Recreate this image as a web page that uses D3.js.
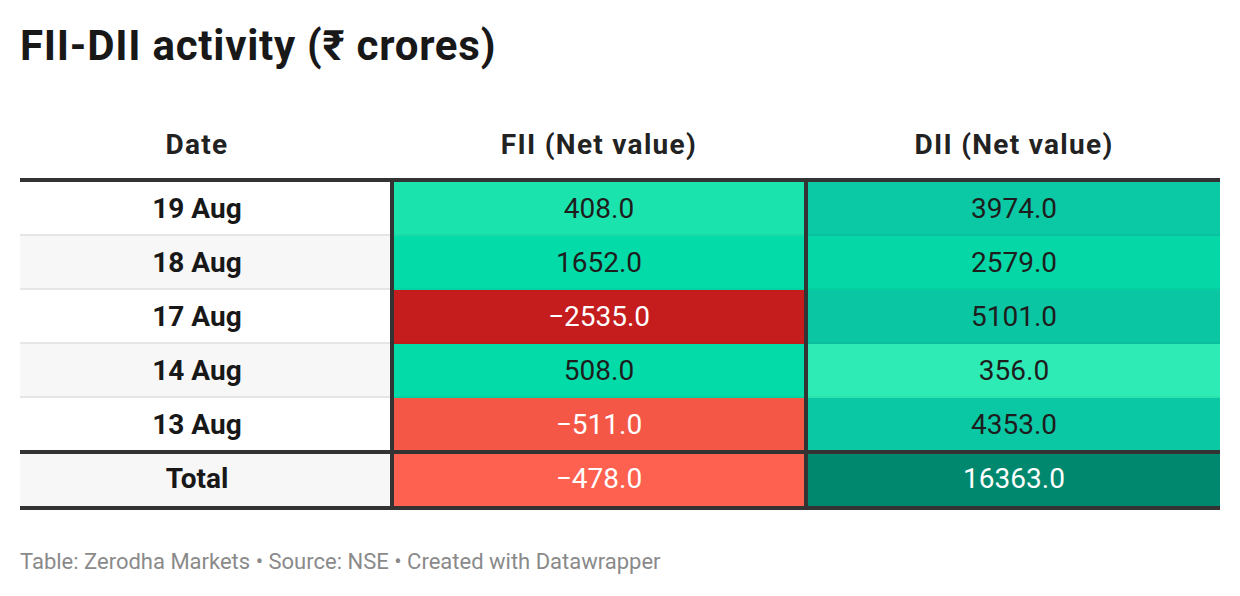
<!DOCTYPE html>
<html>
<head>
<meta charset="utf-8">
<script src="https://cdn.jsdelivr.net/npm/d3@7"></script>
<style>
  html, body { margin: 0; padding: 0; background: #fff; }
  svg { display: block; font-family: Roboto, "Noto Sans", sans-serif; }
</style>
</head>
<body>
<svg id="chart" width="1240" height="596"></svg>
<script>
// ---- data ----
const title = "FII-DII activity (₹ crores)";
const footer = "Table: Zerodha Markets • Source: NSE • Created with Datawrapper";
const headers = ["Date", "FII (Net value)", "DII (Net value)"];
const dates = ["19 Aug", "18 Aug", "17 Aug", "14 Aug", "13 Aug", "Total"];
const fiiValues = [408, 1652, -2535, 508, -511, -478];
const diiValues = [3974, 2579, 5101, 356, 4353, 16363];
// colour scale stops (value -> colour)
const colorStops = [-2535, -511, -478, 356, 408, 508, 1652, 2579, 3974, 5101, 16363];
const colorRange = ["#c51c1d", "#f55747", "#fe614f", "#2eebb6", "#1be3ad", "#03dba8", "#03dba8", "#05d7a6", "#0bc9a5", "#0bc6a3", "#00886f"];

// ---- layout ----
const svg = d3.select("#chart");
const left = 20, right = 1220;
const colX = [20, 394, 808];
const colW = [370, 410, 412];
const colCenter = [197, 394 + 205, 808 + 206];
const tableTop = 182;
const rowH = 54;

const color = d3.scaleLinear().domain(colorStops).range(colorRange).interpolate(d3.interpolateRgb).clamp(true);
const y = d3.scaleBand().domain(dates).range([tableTop, tableTop + rowH * dates.length]).paddingInner(0);

svg.append("text").attr("x", 20).attr("y", 60)
  .attr("font-size", 42).attr("font-weight", 700).attr("letter-spacing", 0.75)
  .attr("fill", "#181818").text(title);

// headers
svg.selectAll("text.hdr").data(headers).enter().append("text")
  .attr("class", "hdr")
  .attr("x", (d, i) => colCenter[i])
  .attr("y", 154)
  .attr("text-anchor", "middle")
  .attr("font-size", 28).attr("font-weight", 700).attr("letter-spacing", 1.3).attr("fill", "#222")
  .text(d => d);

const rows = dates.map((d, i) => ({ date: d, fii: fiiValues[i], dii: diiValues[i], i }));

// date column backgrounds (striped)
svg.selectAll("rect.dbg").data(rows).enter().append("rect")
  .attr("x", colX[0]).attr("width", colW[0])
  .attr("y", d => y(d.date)).attr("height", y.bandwidth())
  .attr("fill", d => (d.i % 2 === 1 || d.date === "Total") ? "#f7f7f7" : "#ffffff");

// value cells
const cols = [{ key: "fii", c: 1 }, { key: "dii", c: 2 }];
cols.forEach(col => {
  svg.selectAll("rect.v" + col.key).data(rows).enter().append("rect")
    .attr("x", colX[col.c]).attr("width", colW[col.c])
    .attr("y", d => y(d.date)).attr("height", y.bandwidth())
    .attr("fill", d => color(d[col.key]));
});

// row dividers (light)
svg.selectAll("rect.div").data(rows.slice(1, 5)).enter().append("rect")
  .attr("x", left).attr("width", colW[0])
  .attr("y", d => y(d.date) - 2).attr("height", 2)
  .attr("fill", "#e6e6e6");
cols.forEach(col => {
  svg.selectAll("rect.divc" + col.key).data(rows.slice(1, 5)).enter().append("rect")
    .attr("x", colX[col.c]).attr("width", colW[col.c])
    .attr("y", d => y(d.date) - 2).attr("height", 2)
    .attr("fill", "rgba(0,0,0,0.035)");
});

// text
svg.selectAll("text.date").data(rows).enter().append("text")
  .attr("x", colCenter[0])
  .attr("y", d => y(d.date) + y.bandwidth() / 2 + 8.5)
  .attr("text-anchor", "middle")
  .attr("font-size", 28).attr("font-weight", 700).attr("fill", "#181818")
  .text(d => d.date);

const fmt = v => (v < 0 ? "\u2212" : "") + Math.abs(v).toFixed(1);
cols.forEach(col => {
  svg.selectAll("text.t" + col.key).data(rows).enter().append("text")
    .attr("x", colCenter[col.c])
    .attr("y", d => y(d.date) + y.bandwidth() / 2 + 8.5)
    .attr("text-anchor", "middle")
    .attr("font-size", 28).attr("font-weight", 400)
    .attr("fill", d => d3.lab(color(d[col.key])).l < 66 ? "#ffffff" : "#1d1d1d")
    .text(d => fmt(d[col.key]));
});

// heavy borders
const dark = "#333333";
svg.append("rect").attr("x", left).attr("width", right - left).attr("y", 178).attr("height", 4).attr("fill", dark);
svg.append("rect").attr("x", left).attr("width", right - left).attr("y", y("Total") - 2).attr("height", 4).attr("fill", dark);
svg.append("rect").attr("x", left).attr("width", right - left).attr("y", y("Total") + y.bandwidth()).attr("height", 4).attr("fill", dark);
[390, 804].forEach(x => {
  svg.append("rect").attr("x", x).attr("width", 4).attr("y", 178).attr("height", y("Total") + y.bandwidth() + 4 - 178).attr("fill", dark);
});

svg.append("text").attr("x", 20).attr("y", 569)
  .attr("font-size", 22).attr("fill", "#8a8a8a").text(footer);
</script>
</body>
</html>
